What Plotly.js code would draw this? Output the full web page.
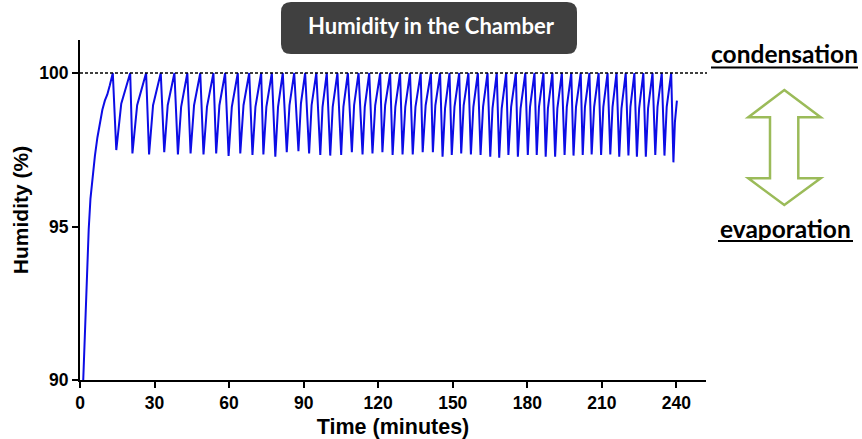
<!DOCTYPE html>
<html>
<head>
<meta charset="utf-8">
<script src="https://cdn.plot.ly/plotly-3.0.1.min.js"></script>
<style>
  html, body { margin: 0; padding: 0; background: #ffffff; }
  #chart { width: 862px; height: 439px; }
</style>
</head>
<body>
<div id="chart"></div>
<script>
// ---------------- data ----------------
const warmupTime     = [1.3, 2.0, 2.8, 3.5, 4.2, 5.0, 6.0, 7.0, 8.0, 9.0, 10.0, 11.0, 12.0];
const warmupHumidity = [90.0, 91.6, 93.4, 94.9, 95.9, 96.6, 97.3, 97.9, 98.4, 98.8, 99.1, 99.3, 99.6];

const peakHumidity = 100; // every peak touches the condensation line

const peakTime = [13.2, 20.2, 26.6, 32.5, 38.0, 43.2, 48.4, 53.7, 58.4, 63.5,
                  68.1, 72.9, 77.2, 81.6, 86.2, 90.6, 95.1, 99.3, 103.6, 107.8,
                  112.1, 116.4, 120.8, 124.8, 128.8, 132.8, 137.1, 141.2, 144.9, 148.7,
                  152.6, 156.3, 160.1, 164.0, 167.7, 171.5, 175.4, 179.2, 182.9, 186.5,
                  190.1, 193.9, 197.7, 201.5, 205.0, 208.7, 212.3, 215.9, 219.6, 223.1,
                  226.7, 230.4, 234.1, 237.9];

const troughTime = [14.6, 21.1, 27.8, 33.9, 39.4, 44.5, 49.7, 54.8, 59.8, 64.5,
                    69.4, 73.8, 78.6, 83.2, 87.9, 92.2, 96.7, 100.7, 105.1, 109.4,
                    113.7, 117.7, 121.7, 125.8, 129.8, 133.9, 137.9, 142.0, 145.9, 149.6,
                    153.4, 157.3, 161.2, 165.1, 168.7, 172.4, 176.2, 180.2, 183.8, 187.4,
                    191.2, 195.0, 198.6, 202.3, 205.9, 209.7, 213.4, 217.0, 220.7, 224.1,
                    227.7, 231.5, 235.2, 238.8];

const troughHumidity = [97.49, 97.38, 97.35, 97.42, 97.35, 97.38, 97.35, 97.38, 97.30, 97.38,
                        97.33, 97.35, 97.27, 97.42, 97.45, 97.38, 97.33, 97.31, 97.33, 97.42,
                        97.35, 97.38, 97.42, 97.33, 97.35, 97.35, 97.42, 97.42, 97.27, 97.33,
                        97.38, 97.35, 97.33, 97.27, 97.24, 97.33, 97.27, 97.33, 97.33, 97.27,
                        97.27, 97.33, 97.31, 97.33, 97.35, 97.33, 97.35, 97.27, 97.31, 97.27,
                        97.27, 97.33, 97.31, 97.09];

// a point on each rising (re-humidifying) flank, after each trough
const riseTime = [16.6, 23.0, 29.4, 35.3, 40.7, 45.9, 51.1, 56.1, 61.1, 65.8,
                  70.6, 75.0, 79.7, 84.3, 88.9, 93.2, 97.6, 101.7, 106.0, 110.3,
                  114.6, 118.8, 122.8, 126.9, 130.9, 135.0, 139.1, 143.0, 146.9, 150.7,
                  154.4, 158.3, 162.2, 166.0, 169.7, 173.5, 177.3, 181.1, 184.7, 188.3,
                  192.1, 195.9, 199.6, 203.2, 206.9, 210.6, 214.3, 217.9, 221.5, 225.0,
                  228.6, 232.4, 236.1, 239.4];

const riseHumidity = [99.0, 98.95, 98.95, 98.95, 98.9, 98.95, 98.9, 98.95, 98.9, 98.95,
                      98.9, 98.9, 98.9, 98.95, 99.0, 98.95, 98.9, 98.9, 98.9, 98.95,
                      98.9, 98.95, 98.95, 98.9, 98.9, 98.9, 98.95, 98.95, 98.85, 98.9,
                      98.95, 98.9, 98.9, 98.85, 98.85, 98.9, 98.85, 98.9, 98.9, 98.85,
                      98.85, 98.9, 98.9, 98.9, 98.9, 98.9, 98.9, 98.85, 98.9, 98.85,
                      98.85, 98.9, 98.9, 98.4];

const endTime = 240.2, endHumidity = 99.1;

const xTicks = [0, 30, 60, 90, 120, 150, 180, 210, 240];
const yTicks = [90, 95, 100];

// ---------------- build series ----------------
const t = [...warmupTime], h = [...warmupHumidity];
for (let k = 0; k < peakTime.length; k++) {
  t.push(peakTime[k]);   h.push(peakHumidity);
  t.push(troughTime[k]); h.push(troughHumidity[k]);
  t.push(riseTime[k]);   h.push(riseHumidity[k]);
}
t.push(endTime); h.push(endHumidity);

// ---------------- layout helpers (pixel -> paper) ----------------
const ML = 80, MT = 40, PW = 626, PH = 340;
const px = x => (x - ML) / PW;
const py = y => (MT + PH - y) / PH;

function roundRect(x0, y0, x1, y1, r) {
  const a = px(x0), b = px(x1), top = py(y0), bot = py(y1);
  const rx = r / PW, ry = r / PH;
  return `M ${a+rx},${top} L ${b-rx},${top} Q ${b},${top} ${b},${top-ry} ` +
         `L ${b},${bot+ry} Q ${b},${bot} ${b-rx},${bot} L ${a+rx},${bot} ` +
         `Q ${a},${bot} ${a},${bot+ry} L ${a},${top-ry} Q ${a},${top} ${a+rx},${top} Z`;
}
function poly(pts) {
  return 'M ' + pts.map(p => `${px(p[0])},${py(p[1])}`).join(' L ') + ' Z';
}

const arrowPts = [[784.3, 90], [820.7, 117.3], [798.3, 117.3], [798.3, 178.3], [820.7, 178.3],
                  [784.3, 205], [748.3, 178.3], [770, 178.3], [770, 117.3], [748.3, 117.3]];

const trace = {
  x: t, y: h, type: 'scatter', mode: 'lines',
  line: { color: '#0c0ce6', width: 2 },
  hoverinfo: 'skip', showlegend: false
};

const sans = 'Liberation Sans, Arial, sans-serif';
const axisFont = { family: sans, size: 17.5, color: '#000' };

const layout = {
  width: 862, height: 439,
  margin: { l: ML, r: 862 - ML - PW, t: MT, b: 439 - MT - PH },
  paper_bgcolor: '#fff', plot_bgcolor: '#fff',
  showlegend: false,
  xaxis: {
    range: [0, PW / 2.485], tickvals: xTicks, ticktext: xTicks.map(v => '<b>' + v + '</b>'),
    ticks: 'outside', ticklen: 6, tickwidth: 2, tickcolor: '#000',
    showline: true, linecolor: '#000', linewidth: 2, showgrid: false, zeroline: false,
    tickfont: axisFont,
    title: { text: '<b>Time (minutes)</b>', font: { family: sans, size: 21.5, color: '#000' }, standoff: 7 }
  },
  yaxis: {
    range: [90, 90 + PH / 30.7], tickvals: yTicks, ticktext: yTicks.map(v => '<b>' + v + '</b>'),
    ticks: 'outside', ticklen: 6, tickwidth: 2, tickcolor: '#000',
    showline: true, linecolor: '#000', linewidth: 2, showgrid: false, zeroline: false,
    tickfont: axisFont,
    title: { text: '<b>Humidity (%)</b>', font: { family: sans, size: 21, color: '#000' }, standoff: 5 }
  },
  shapes: [
    { type: 'line', xref: 'paper', yref: 'y', x0: 0, x1: px(707), y0: 100, y1: 100,
      line: { color: '#000', width: 1.5, dash: '3px,2px' } },
    { type: 'path', xref: 'paper', yref: 'paper', path: roundRect(281, 2, 577, 54, 10),
      fillcolor: '#404040', line: { width: 0 } },
    { type: 'path', xref: 'paper', yref: 'paper', path: poly(arrowPts),
      fillcolor: '#ffffff', line: { color: '#9bbb59', width: 2.5 } },
    { type: 'line', xref: 'paper', yref: 'paper', x0: px(711), x1: px(858), y0: py(67.5), y1: py(67.5),
      line: { color: '#000', width: 2 } },
    { type: 'line', xref: 'paper', yref: 'paper', x0: px(718), x1: px(853), y0: py(241), y1: py(241),
      line: { color: '#000', width: 2 } }
  ],
  annotations: [
    { xref: 'paper', yref: 'paper', x: px(431), y: py(26), xanchor: 'center', yanchor: 'middle',
      text: '<b>Humidity in the Chamber</b>', showarrow: false,
      font: { family: 'Lato, Open Sans, sans-serif', size: 22, color: '#ffffff' } },
    { xref: 'paper', yref: 'paper', x: px(784.5), y: py(54), xanchor: 'center', yanchor: 'middle',
      text: '<b>condensation</b>', showarrow: false,
      font: { family: 'Lato, Open Sans, sans-serif', size: 24.5, color: '#000' } },
    { xref: 'paper', yref: 'paper', x: px(785.5), y: py(228), xanchor: 'center', yanchor: 'middle',
      text: '<b>evaporation</b>', showarrow: false,
      font: { family: 'Lato, Open Sans, sans-serif', size: 24.5, color: '#000' } }
  ]
};

Plotly.newPlot('chart', [trace], layout, { displayModeBar: false, staticPlot: true });
</script>
</body>
</html>
